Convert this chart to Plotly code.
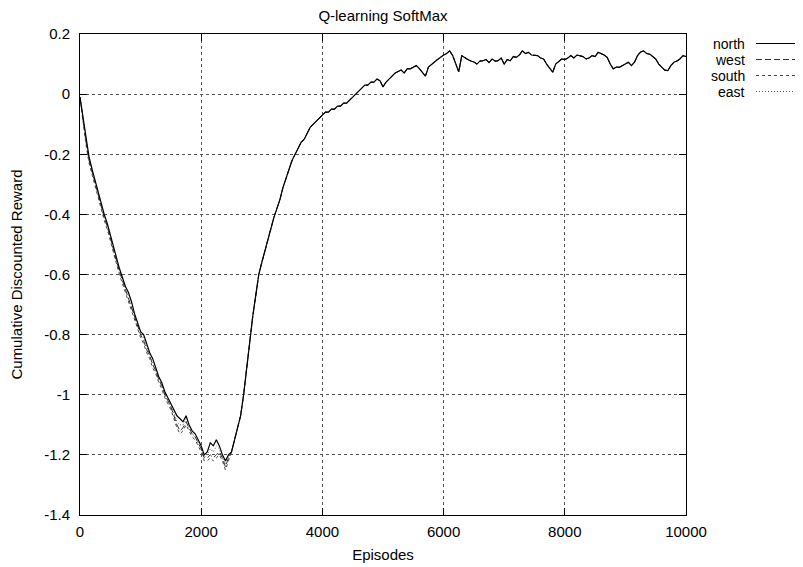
import plotly.graph_objects as go

episodes = list(range(0, 10001, 50))

north = [
    -0.01, -0.08, -0.15, -0.21, -0.25, -0.29, -0.33, -0.37, -0.40, -0.43,
    -0.47, -0.51, -0.55, -0.58, -0.61, -0.64, -0.66, -0.69, -0.73, -0.76,
    -0.79, -0.80, -0.83, -0.86, -0.88, -0.91, -0.94, -0.96, -0.99, -1.01,
    -1.03, -1.05, -1.07, -1.08, -1.09, -1.07, -1.10, -1.12, -1.13, -1.15,
    -1.17, -1.20, -1.19, -1.16, -1.17, -1.15, -1.17, -1.20, -1.22, -1.20,
    -1.19, -1.15, -1.11, -1.07, -1.00, -0.91, -0.81, -0.74, -0.67, -0.60,
    -0.56, -0.52, -0.48, -0.45, -0.41, -0.38, -0.35, -0.31, -0.28, -0.25,
    -0.22, -0.20, -0.18, -0.16, -0.15, -0.13, -0.11, -0.10, -0.09, -0.08,
    -0.07, -0.06, -0.06, -0.05, -0.05, -0.04, -0.04, -0.03, -0.03, -0.02,
    -0.01, 0.00, 0.01, 0.02, 0.03, 0.03, 0.04, 0.04, 0.05, 0.045,
    0.024, 0.04, 0.05, 0.06, 0.07, 0.075, 0.08, 0.07, 0.085, 0.084,
    0.09, 0.095, 0.085, 0.074, 0.06, 0.09, 0.10, 0.107, 0.115, 0.123,
    0.13, 0.135, 0.144, 0.128, 0.10, 0.074, 0.128, 0.12, 0.115, 0.11,
    0.107, 0.10, 0.11, 0.111, 0.115, 0.105, 0.117, 0.11, 0.111, 0.12,
    0.10, 0.115, 0.111, 0.125, 0.122, 0.13, 0.144, 0.135, 0.139, 0.13,
    0.128, 0.128, 0.12, 0.117, 0.10, 0.085, 0.073, 0.10, 0.107, 0.117,
    0.115, 0.12, 0.128, 0.12, 0.13, 0.128, 0.125, 0.117, 0.12, 0.128,
    0.125, 0.139, 0.135, 0.13, 0.122, 0.10, 0.084, 0.09, 0.089, 0.095,
    0.10, 0.106, 0.095, 0.106, 0.128, 0.14, 0.144, 0.135, 0.133, 0.125,
    0.117, 0.10, 0.089, 0.08, 0.078, 0.095, 0.106, 0.11, 0.117, 0.128,
    0.125,
]

# early part (0..2600) of the other series; afterwards they follow north
west_early = [
    -0.01, -0.09, -0.16, -0.22, -0.26, -0.30, -0.34, -0.38, -0.41, -0.44,
    -0.48, -0.52, -0.56, -0.59, -0.62, -0.65, -0.68, -0.71, -0.74, -0.77,
    -0.80, -0.82, -0.85, -0.87, -0.90, -0.92, -0.95, -0.97, -1.00, -1.02,
    -1.04, -1.07, -1.10, -1.12, -1.11, -1.09, -1.11, -1.13, -1.14, -1.16,
    -1.18, -1.21, -1.21, -1.20, -1.21, -1.20, -1.19, -1.21, -1.24, -1.21,
    -1.19, -1.15, -1.11,
]
south_early = [
    -0.01, -0.09, -0.17, -0.23, -0.27, -0.31, -0.35, -0.39, -0.42, -0.45,
    -0.49, -0.53, -0.57, -0.60, -0.63, -0.66, -0.69, -0.72, -0.75, -0.78,
    -0.81, -0.83, -0.86, -0.88, -0.91, -0.93, -0.96, -0.98, -1.01, -1.03,
    -1.05, -1.08, -1.11, -1.13, -1.12, -1.10, -1.12, -1.14, -1.15, -1.17,
    -1.19, -1.22, -1.22, -1.21, -1.22, -1.21, -1.20, -1.22, -1.25, -1.22,
    -1.19, -1.15, -1.11,
]
east_early = [
    -0.01, -0.08, -0.16, -0.22, -0.26, -0.30, -0.34, -0.37, -0.41, -0.44,
    -0.47, -0.52, -0.56, -0.58, -0.62, -0.65, -0.67, -0.70, -0.74, -0.77,
    -0.79, -0.81, -0.84, -0.87, -0.89, -0.92, -0.95, -0.97, -1.00, -1.02,
    -1.04, -1.06, -1.09, -1.10, -1.10, -1.08, -1.11, -1.13, -1.14, -1.16,
    -1.18, -1.21, -1.20, -1.18, -1.19, -1.17, -1.18, -1.21, -1.23, -1.21,
    -1.19, -1.15, -1.11,
]

x_ticks = [0, 2000, 4000, 6000, 8000, 10000]
x_ticktext = ["0", "2000", "4000", "6000", "8000", "10000"]
y_ticks = [0.2, 0, -0.2, -0.4, -0.6, -0.8, -1, -1.2, -1.4]
y_ticktext = ["0.2", "0", "-0.2", "-0.4", "-0.6", "-0.8", "-1", "-1.2", "-1.4"]

series = [
    ("north", north, "solid", "#000000", 1.2),
    ("west", west_early + north[len(west_early):], "6px,3px", "#333333", 1),
    ("south", south_early + north[len(south_early):], "3px,3px", "#444444", 1),
    ("east", east_early + north[len(east_early):], "1px,2px", "#555555", 1),
]

FONT = "Liberation Sans, Arial, sans-serif"
FS = 15
fig = go.Figure()
# draw back to front so north is on top
for name, vals, dash, col, lw in reversed(series):
    fig.add_trace(go.Scatter(x=episodes, y=vals, mode="lines", name=name,
                             line=dict(color=col, width=lw, dash=dash),
                             showlegend=False))

# page body adds an 8px offset; figure sized so that it fills the window
OFF = 8
W, H = 803 - OFF, 567 - OFF
L, T = 80 - OFF, 34 - OFF
pw, ph = 606, 481
R, B = W - L - pw, H - T - ph

# legend drawn manually: text then sample line on its right
leg_rows = [43.5, 59.5, 75.5, 91.5]
for (name, vals, dash, col, lw), py in zip(series, leg_rows):
    yp = (T + ph - (py - OFF)) / ph
    fig.add_annotation(x=(747 - OFF - L) / pw, y=yp, xref="paper", yref="paper",
                       text=name, showarrow=False, xanchor="right",
                       yanchor="middle", font=dict(family=FONT, size=14, color="black"))
    fig.add_shape(type="line", xref="paper", yref="paper",
                  x0=(756 - OFF - L) / pw, x1=(803 - OFF - L) / pw, y0=yp, y1=yp,
                  line=dict(color=col, width=1, dash=dash))

axis_common = dict(showline=True, mirror="allticks", linecolor="black", linewidth=1,
                   ticks="inside", ticklen=7, tickcolor="black", automargin=False,
                   showgrid=True, gridcolor="#555555", griddash="dot", gridwidth=1,
                   zeroline=False, tickfont=dict(family=FONT, size=FS, color="black"))

fig.update_xaxes(range=[0, 10000], tickvals=x_ticks, ticktext=x_ticktext,
                 ticklabelstandoff=3,
                 title=dict(text="Episodes", font=dict(family=FONT, size=FS, color="black"),
                            standoff=10),
                 **axis_common)
fig.update_yaxes(range=[-1.4, 0.2], tickvals=y_ticks, ticktext=y_ticktext,
                 ticklabelstandoff=6,
                 title=dict(text="Cumulative Discounted Reward",
                            font=dict(family=FONT, size=FS, color="black"), standoff=22),
                 **axis_common)

fig.update_layout(
    width=W, height=H,
    margin=dict(l=L, r=R, t=T, b=B, pad=0),
    paper_bgcolor="white", plot_bgcolor="white",
    title=dict(text="Q-learning SoftMax", x=(L + pw / 2) / W, xanchor="center",
               y=1, yanchor="top", yref="container", automargin=False,
               pad=dict(t=2, b=0, l=0, r=0),
               font=dict(family=FONT, size=FS, color="black")),
)

fig.write_html("out.html")
